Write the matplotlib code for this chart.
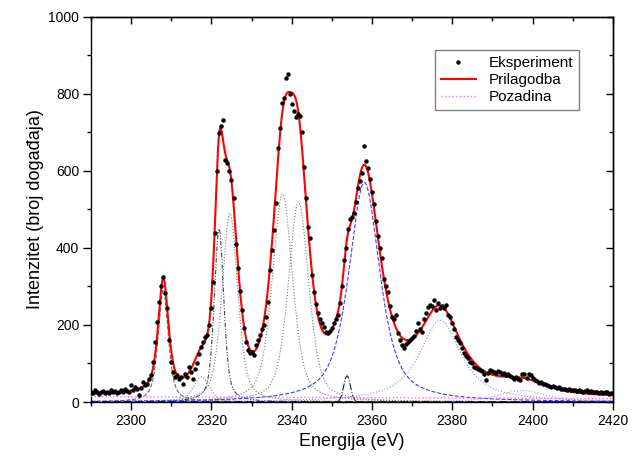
import numpy as np
import matplotlib
matplotlib.use("Agg")
import matplotlib.pyplot as plt
from matplotlib.ticker import MultipleLocator

plt.rcParams['font.family'] = ['Liberation Sans', 'DejaVu Sans']

# ------------------------------
# measured spectrum (0.5 eV step starting at 2290 eV)
# ------------------------------
e_start = 2290.0
e_step = 0.5
counts = [
    26, 24, 30, 25, 22, 27, 29, 24, 27, 23,
    30, 26, 28, 24, 27, 31, 25, 35, 29, 26,
    44, 30, 38, 34, 18, 36, 52, 45, 48, 60,
    69, 104, 156, 208, 260, 300, 325, 282, 243, 160,
    104, 78, 65, 69, 61, 64, 48, 73, 66, 90,
    78, 61, 85, 100, 125, 143, 156, 168, 173, 200,
    243, 312, 440, 600, 699, 716, 731, 628, 620, 599,
    577, 530, 409, 348, 287, 239, 191, 156, 135, 128,
    130, 121, 148, 160, 174, 190, 200, 221, 260, 343,
    395, 447, 516, 660, 711, 777, 790, 840, 851, 799,
    773, 755, 740, 747, 743, 700, 610, 530, 455, 425,
    330, 285, 255, 232, 215, 204, 195, 182, 178, 185,
    191, 204, 215, 226, 256, 300, 370, 400, 448, 474,
    480, 490, 520, 555, 575, 595, 664, 625, 608, 580,
    545, 515, 470, 430, 400, 373, 320, 300, 285, 250,
    220, 215, 225, 180, 160, 148, 140, 150, 155, 162,
    165, 172, 185, 204, 190, 182, 215, 232, 247, 252,
    248, 265, 240, 258, 245, 250, 245, 252, 227, 220,
    205, 190, 169, 160, 153, 140, 127, 120, 114, 105,
    100, 91, 88, 85, 82, 80, 72, 56, 75, 82,
    80, 77, 76, 80, 77, 72, 75, 70, 73, 68,
    66, 61, 64, 60, 58, 72, 74, 62, 74, 70,
    62, 57, 54, 50, 53, 48, 46, 44, 42, 40,
    41, 38, 36, 39, 34, 33, 35, 32, 34, 31,
    30, 32, 28, 30, 29, 27, 28, 30, 26, 28,
    26, 27, 25, 24, 26, 23, 25, 26, 22, 24,
    23,
]

# ------------------------------
# fitted peaks (pseudo-Voigt)
# ------------------------------
peak_center = [2308.0, 2317.5, 2321.9, 2324.6, 2337.7, 2341.7, 2353.8, 2358.1, 2377.0, 2397.5]
peak_height = [292, 65, 450, 490, 540, 520, 68, 570, 212, 30]
peak_hwhm = [1.5, 2.4, 1.4, 2.3, 3.0, 3.0, 1.0, 4.6, 6.2, 7.0]
peak_lorentz = [0.6, 0.3, 0.5, 0.5, 0.5, 0.5, 0.0, 0.7, 0.9, 0.6]

# background (Pozadina), value at 2290 and at 2420 eV
bg_ends = [14, 9]

# line styles of the components
comp_color = ['#666666', '#888888', '#444444', '#777777', '#777777',
              '#777777', '#222222', '#3b3bff', '#8c8cff', '#9a9ae6']
comp_style = ['--', ':', (0, (4, 1.5, 1, 1.5, 1, 1.5)), ':', ':',
              ':', '-.', '--', ':', ':']


def pseudo_voigt(x, c, h, w, eta):
    d = (x - c) / w
    return h * (eta / (1 + d ** 2) + (1 - eta) * np.exp(-np.log(2) * d ** 2))


energy = e_start + e_step * np.arange(len(counts))
x = np.linspace(2290, 2420, 1301)
background = np.interp(x, [2290, 2420], bg_ends)

components = []
for c, h, w, eta in zip(peak_center, peak_height, peak_hwhm, peak_lorentz):
    components.append(pseudo_voigt(x, c, h, w, eta))
fit = background + np.sum(components, axis=0)

fig = plt.figure(figsize=(6.41, 4.68), dpi=100)
ax = fig.add_axes([0.142, 0.141, 0.814, 0.823])

for comp, col, ls in zip(components, comp_color, comp_style):
    ax.plot(x, comp, color=col, linestyle=ls, linewidth=0.8, zorder=2)

ax.axhline(0, color='#1a1a80', linestyle='--', linewidth=1.5, zorder=2)
ax.plot(x, background, color='#ff66ff', linestyle=':', linewidth=1.0,
        label='Pozadina', zorder=3)
ax.plot(x, fit, color='#ff0000', linewidth=1.5, label='Prilagodba', zorder=4)
ax.plot(energy, counts, linestyle='none', marker='o', markersize=2.2,
        color='black', label='Eksperiment', zorder=5)

ax.set_xlim(2290, 2420)
ax.set_ylim(0, 1000)
ax.xaxis.set_major_locator(MultipleLocator(20))
ax.xaxis.set_minor_locator(MultipleLocator(10))
ax.yaxis.set_major_locator(MultipleLocator(200))
ax.yaxis.set_minor_locator(MultipleLocator(100))
ax.tick_params(which='both', direction='out', labelsize=10, width=1.0, pad=2.5)
ax.tick_params(which='major', length=6)
ax.tick_params(which='minor', length=3)

# inward ticks on the top and right frame
top = ax.secondary_xaxis('top')
top.xaxis.set_major_locator(MultipleLocator(20))
top.xaxis.set_minor_locator(MultipleLocator(10))
top.tick_params(which='both', direction='in', labeltop=False, width=1.0)
top.tick_params(which='major', length=5)
top.tick_params(which='minor', length=3)
right = ax.secondary_yaxis('right')
right.yaxis.set_major_locator(MultipleLocator(200))
right.yaxis.set_minor_locator(MultipleLocator(100))
right.tick_params(which='both', direction='in', labelright=False, width=1.0)
right.tick_params(which='major', length=5)
right.tick_params(which='minor', length=3)

for sp in list(ax.spines.values()) + [top.spines['top'], right.spines['right']]:
    sp.set_linewidth(1.0)

ax.set_xlabel('Energija (eV)', fontsize=13, labelpad=4)
ax.set_ylabel('Intenzitet (broj događaja)', fontsize=13, labelpad=3)

handles, labels = ax.get_legend_handles_labels()
order = [2, 1, 0]
leg = ax.legend([handles[i] for i in order], [labels[i] for i in order],
                loc='upper right', bbox_to_anchor=(0.935, 0.914),
                borderaxespad=0, fontsize=11, numpoints=1, handlelength=2.3,
                labelspacing=0.2, fancybox=False, framealpha=1,
                edgecolor='#808080', borderpad=0.4)
leg.get_frame().set_linewidth(1.0)

fig.savefig('out.png', dpi=100)
